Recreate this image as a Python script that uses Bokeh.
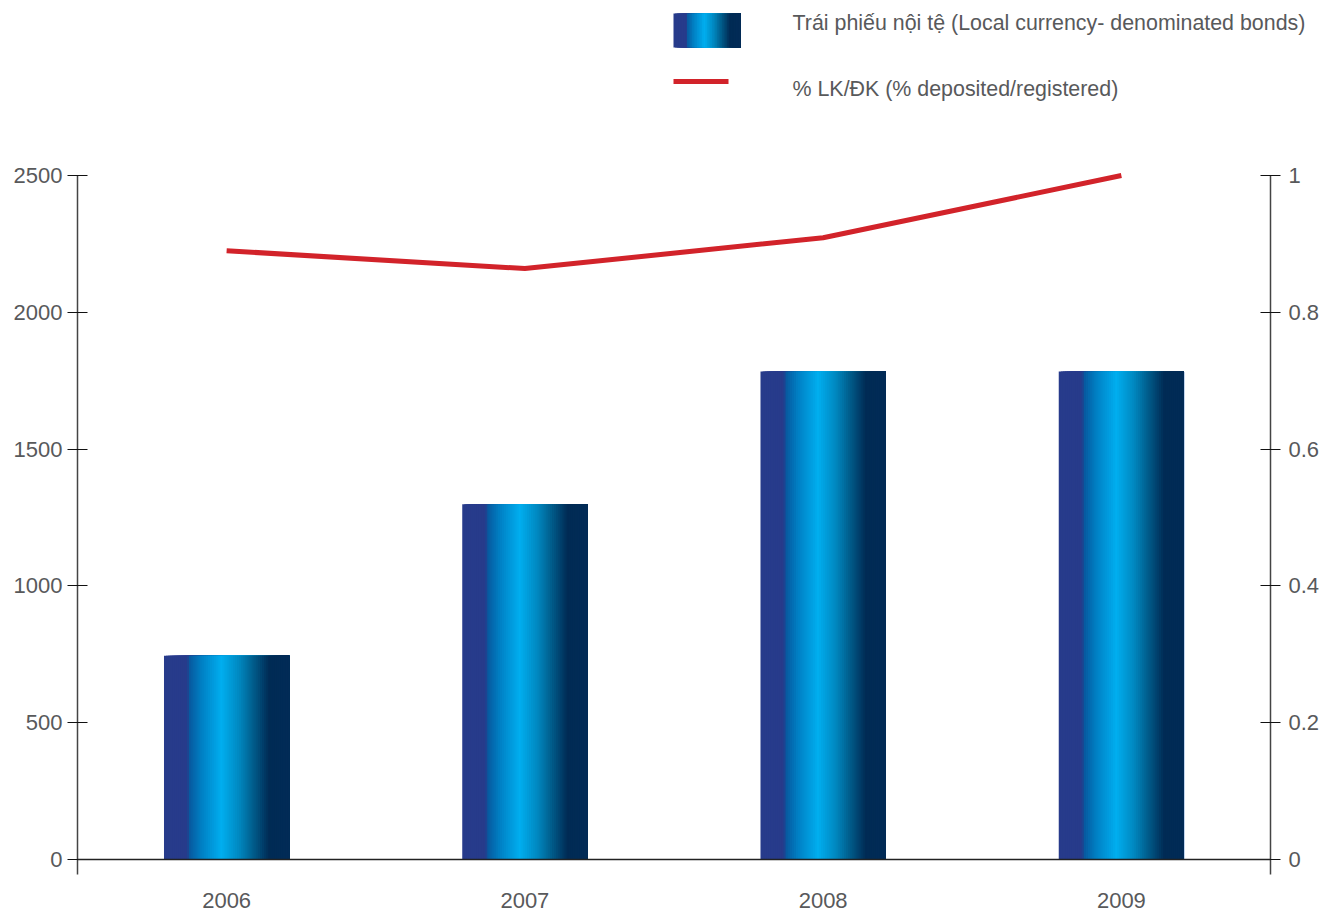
from bokeh.plotting import figure
from bokeh.layouts import column
from bokeh.models import (ColumnDataSource, FactorRange, Range1d, LinearAxis, FixedTicker,
                          CustomJSTickFormatter, Span, Label)
from bokeh.transform import dodge
from bokeh.core.properties import value
from bokeh.embed import file_html
from bokeh.resources import INLINE

# ---- data ----
years = ["2006", "2007", "2008", "2009"]
bonds = [745, 1298, 1784, 1784]
pct_deposited = [0.890, 0.864, 0.909, 1.0]
left_ticks = [0, 500, 1000, 1500, 2000, 2500]
right_ticks = [0, 0.2, 0.4, 0.6, 0.8, 1.0]
bar_label = "Trái phiếu nội tệ (Local currency- denominated bonds)"
line_label = "% LK/ĐK (% deposited/registered)"

FONT = "Liberation Sans"
TEXT = "#58595b"
RED = "#d2232a"

# gradient stops across a bar (fraction of width, colour)
stops = [(0.0, "#273b8b"), (0.19, "#273b8b"), (0.195, "#08569c"), (0.30, "#0080c4"),
         (0.46, "#00aeef"), (0.60, "#0088c0"), (0.72, "#005a88"), (0.84, "#002b55"),
         (1.0, "#022b56")]


def hex2rgb(h):
    return tuple(int(h[i:i + 2], 16) for i in (1, 3, 5))


def grad(f):
    for (f0, c0), (f1, c1) in zip(stops[:-1], stops[1:]):
        if f0 <= f <= f1:
            t = 0 if f1 == f0 else (f - f0) / (f1 - f0)
            a, b = hex2rgb(c0), hex2rgb(c1)
            return "#%02x%02x%02x" % tuple(round(a[k] + (b[k] - a[k]) * t) for k in range(3))
    return stops[-1][1]


# ================= legend strip =================
LEG_H = 120
leg = figure(width=1324, height=LEG_H, x_range=Range1d(0, 1324), y_range=Range1d(LEG_H, 0),
             output_backend="svg", toolbar_location=None, x_axis_location=None,
             y_axis_location=None, min_border=0, frame_align=False)
leg.grid.visible = False
leg.outline_line_color = None
sx0, sx1, sy0, sy1 = 673, 740, 13, 47
M = 40
for i in range(M):
    a = sx0 + (sx1 - sx0) * i / M
    leg.quad(left=[a], right=[sx1], bottom=[sy1], top=[sy0], fill_color=grad((i + 0.5) / M),
             line_color=None)
leg.line(x=[673, 728], y=[81, 81], line_color=RED, line_width=5)
for txt, yy in [(bar_label, 22), (line_label, 88)]:
    leg.add_layout(Label(x=792, y=yy, text=txt, text_font=FONT, text_font_size="21.4px",
                         text_color=TEXT, text_baseline="middle", text_align="left"))

# ================= main chart =================
source = ColumnDataSource(dict(year=years, bonds=bonds, pct=pct_deposited))

p = figure(width=1324, height=915 - LEG_H, x_range=FactorRange(*years),
           y_range=Range1d(-204.7, 2701.0), output_backend="svg", toolbar_location=None,
           x_axis_location=None, y_axis_location=None, frame_align=False,
           min_border_left=77, min_border_right=54, min_border_top=0, min_border_bottom=0)
p.extra_y_ranges = {"pct": Range1d(-0.08187, 1.08041)}
p.grid.visible = False
p.outline_line_color = None
p.background_fill_color = "white"


def style_axis(ax, standoff):
    ax.axis_line_color = "#444444"
    ax.axis_line_width = 1.5
    ax.major_tick_line_color = "#111111"
    ax.major_tick_line_width = 1
    ax.major_tick_in = 10
    ax.major_tick_out = 10
    ax.minor_tick_line_color = None
    ax.major_label_text_font = FONT
    ax.major_label_text_font_size = "22px"
    ax.major_label_text_color = TEXT
    ax.major_label_standoff = standoff


yl = LinearAxis(ticker=FixedTicker(ticks=left_ticks), bounds=(-55, 2500))
style_axis(yl, 5)
p.add_layout(yl, "left")

yr = LinearAxis(y_range_name="pct", ticker=FixedTicker(ticks=right_ticks), bounds=(-0.022, 1.0),
                formatter=CustomJSTickFormatter(code="return String(+tick.toFixed(1));"))
style_axis(yr, 8)
p.add_layout(yr, "right")

p.add_layout(Span(location=0, dimension="width", line_color="#222222", line_width=1.5))

# gradient bars (each slice runs to the bar's right edge, so no seams)
BAR_W = 0.42
N = 60
sw = BAR_W / N
for i in range(N):
    w = BAR_W - i * sw
    off = -BAR_W / 2 + i * sw + w / 2
    p.vbar(x=dodge("year", off, range=p.x_range), top="bonds", bottom=0,
           width=w, source=source, fill_color=grad((i + 0.5) / N), line_color=None)

# line on the right axis
p.line(x="year", y="pct", y_range_name="pct", source=source, line_color=RED, line_width=5)

# category labels
p.text(x="year", y=-151.7, text="year", source=source, text_font=value(FONT),
       text_font_size="22px", text_color=TEXT, text_align="center", text_baseline="middle")

layout = column(leg, p, spacing=0)
open("out.html", "w").write(file_html(layout, INLINE))
